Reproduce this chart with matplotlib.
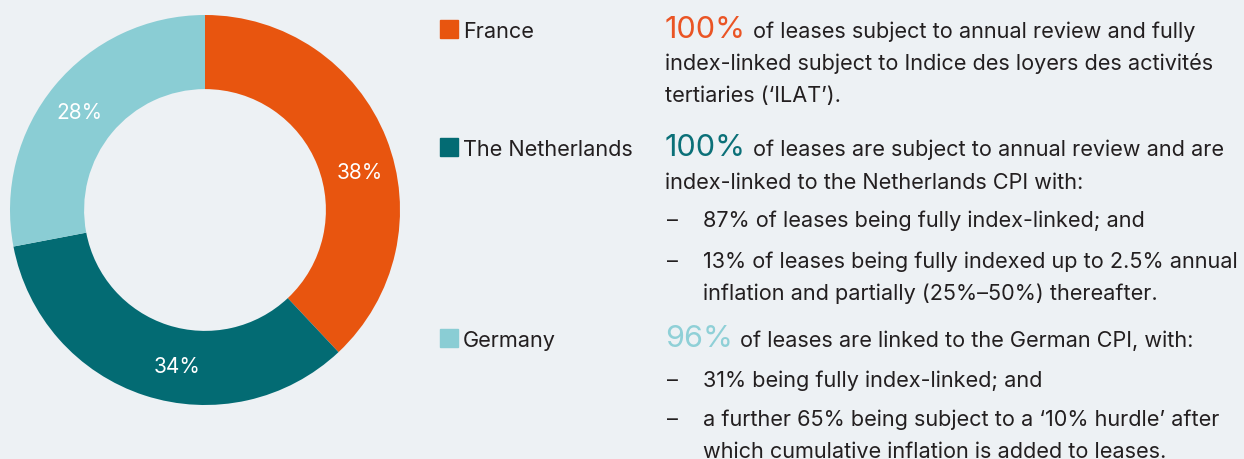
import matplotlib
matplotlib.use("Agg")
import matplotlib.pyplot as plt
import numpy as np

# data
countries = ["France", "The Netherlands", "Germany"]
shares = [38, 34, 28]
colors = ["#E8550F", "#036B73", "#8ACDD4"]
headline_colors = ["#EA5424", "#0B7078", "#8FD0D7"]
headlines = ["100%", "100%", "96%"]
first_lines = [
    "of leases subject to annual review and fully",
    "of leases are subject to annual review and are",
    "of leases are linked to the German CPI, with:",
]
# (kind, text): "p" = plain continuation, "b" = bullet, "c" = bullet continuation
body_lines = [
    [("p", "index-linked subject to Indice des loyers des activités"),
     ("p", "tertiaries (\u2018ILAT\u2019).")],
    [("p", "index-linked to the Netherlands CPI with:"),
     ("b", "87% of leases being fully index-linked; and"),
     ("b", "13% of leases being fully indexed up to 2.5% annual"),
     ("c", "inflation and partially (25%\u201350%) thereafter.")],
    [("b", "31% being fully index-linked; and"),
     ("b", "a further 65% being subject to a \u201810% hurdle\u2019 after"),
     ("c", "which cumulative inflation is added to leases.")],
]

BG = "#EDF1F4"
TXT = "#231F20"
FONT = "Inter"
FS = 15.6
W, H = 1244, 459

fig = plt.figure(figsize=(W / 100, H / 100), dpi=100, facecolor=BG)

# donut
ax = fig.add_axes([10 / W, 54 / H, 390 / W, 390 / H])
ax.set_facecolor(BG)
wedges, _ = ax.pie(shares, colors=colors, startangle=90, counterclock=False,
                   wedgeprops=dict(width=0.38, edgecolor="none"))
ax.set_xlim(-1, 1)
ax.set_ylim(-1, 1)
ax.set_aspect("equal")
ax.axis("off")

label_shift = [-8, 8, 2]  # degrees off the mid-angle, as in the original
for w, s, sh in zip(wedges, shares, label_shift):
    ang = np.deg2rad((w.theta1 + w.theta2) / 2 + sh)
    ax.text(0.815 * np.cos(ang), 0.815 * np.sin(ang), f"{s}%", color="white",
            ha="center", va="center", fontsize=15, family=FONT)

# right-hand text block
def px(x, y):
    return x / W, 1 - y / H

renderer = fig.canvas.get_renderer()
head_base = [38, 156, 347]
body_base = [
    [70, 102],
    [189, 227, 268, 300],
    [387, 426, 458],
]
for i in range(3):
    y0 = head_base[i]
    fig.patches.append(plt.Rectangle(px(440, y0), 18 / W, 18 / H,
                                     transform=fig.transFigure, color=colors[i]))
    fig.text(*px(463, y0), countries[i], fontsize=FS, color=TXT, family=FONT,
             va="baseline")
    t = fig.text(*px(665, y0), headlines[i], fontsize=22, color=headline_colors[i],
                 family=FONT, va="baseline")
    bb = t.get_window_extent(renderer)
    fig.text(*px(665 + bb.width + 7, y0), first_lines[i], fontsize=FS, color=TXT,
             family=FONT, va="baseline")
    for (kind, line), yb in zip(body_lines[i], body_base[i]):
        if kind == "p":
            fig.text(*px(665, yb), line, fontsize=FS, color=TXT, family=FONT,
                     va="baseline")
        else:
            if kind == "b":
                fig.text(*px(667, yb), "\u2013", fontsize=FS, color=TXT,
                         family=FONT, va="baseline")
            fig.text(*px(703, yb), line, fontsize=FS, color=TXT, family=FONT,
                     va="baseline")

fig.savefig("out.png", dpi=100, facecolor=BG)
